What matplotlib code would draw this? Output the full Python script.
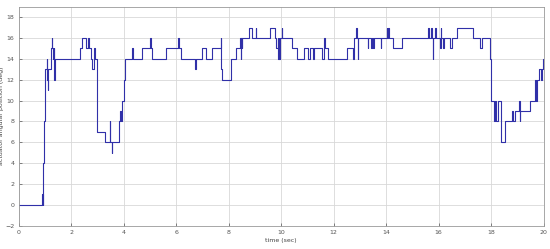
import numpy as np
import matplotlib.pyplot as plt

# step signal: time where each level starts, and the level (deg)
t_steps = [0.00, 0.87, 0.88, 0.89, 0.91, 0.92, 0.98, 1.00, 1.02, 1.06, 1.08, 1.10,
           1.12, 1.22, 1.26, 1.28, 1.32, 1.34, 1.36, 1.38, 2.33, 2.43, 2.55, 2.65,
           2.68, 2.75, 2.78, 2.85, 2.88, 2.92, 2.97, 3.30, 3.47, 3.49, 3.54, 3.56,
           3.82, 3.86, 3.88, 3.92, 3.95, 4.00, 4.05, 4.32, 4.34, 4.70, 5.02, 5.04,
           5.07, 5.63, 6.07, 6.09, 6.20, 6.72, 6.74, 6.97, 7.12, 7.38, 7.70, 7.72,
           7.76, 8.08, 8.27, 8.42, 8.45, 8.47, 8.50, 8.52, 8.78, 8.88, 9.03, 9.05,
           9.58, 9.78, 9.82, 9.86, 9.89, 9.91, 9.93, 9.95, 10.03, 10.05, 10.40, 10.59,
           10.88, 11.03, 11.10, 11.22, 11.26, 11.54, 11.65, 11.67, 11.79, 12.49, 12.75, 12.78,
           12.86, 12.88, 12.92, 12.94, 13.30, 13.32, 13.43, 13.45, 13.50, 13.52, 13.79, 13.81,
           14.02, 14.05, 14.07, 14.09, 14.27, 14.59, 15.60, 15.63, 15.70, 15.73, 15.78, 15.80,
           15.86, 15.90, 16.04, 16.08, 16.10, 16.18, 16.22, 16.45, 16.50, 16.68, 17.32, 17.57,
           17.64, 17.97, 17.99, 18.01, 18.10, 18.14, 18.20, 18.26, 18.37,
           18.53, 18.80, 18.82, 18.90, 19.06, 19.08, 19.10, 19.47, 19.66, 19.68, 19.72, 19.74,
           19.84, 19.90, 19.92, 19.96, 20.00]
levels = [0, 1, 0, 1, 0, 4, 8, 11, 13, 14, 12, 11,
          13, 15, 16, 15, 14, 15, 12, 14, 15, 16, 15, 16,
          15, 14, 13, 14, 15, 14, 7, 6, 8, 6, 5, 6,
          8, 9, 8, 9, 10, 12, 14, 15, 14, 15, 16, 15,
          14, 15, 16, 15, 14, 13, 14, 15, 14, 15, 16, 13,
          12, 14, 15, 16, 14, 16, 15, 16, 17, 16, 17, 16,
          17, 16, 15, 16, 14, 16, 14, 16, 17, 16, 15, 14,
          15, 14, 15, 14, 15, 14, 16, 15, 14, 15, 14, 16,
          17, 16, 14, 16, 15, 16, 15, 16, 15, 16, 15, 16,
          17, 16, 17, 16, 15, 16, 17, 16, 17, 16, 14, 16,
          17, 16, 15, 17, 16, 15, 16, 15, 16, 17, 16, 15,
          16, 14, 12, 10, 8, 10, 8, 10, 6,
          8, 9, 8, 9, 10, 8, 9, 10, 11, 12, 10, 12,
          13, 12, 13, 14, 14]

x_ticks = np.arange(0, 21, 2)
y_ticks = np.arange(-2, 19, 2)

fig = plt.figure(figsize=(5.5, 2.49), dpi=100)
ax = fig.add_axes([0.034, 0.094, 0.9545, 0.879])

ax.step(t_steps, levels, where='post', color='#3030a8', linewidth=0.8)

ax.set_xlim(0, 20)
ax.set_ylim(-2, 19)
ax.set_xticks(x_ticks)
ax.set_yticks(y_ticks)
ax.grid(True, color='#d8d8d8', linewidth=0.6)
ax.set_axisbelow(True)
ax.tick_params(direction='in', length=2, width=0.5, labelsize=4.5,
               colors='#555555', pad=3)
for s in ax.spines.values():
    s.set_color('#999999')
    s.set_linewidth(0.6)

ax.set_xlabel('time (sec)', fontsize=4.5, color='#444444', labelpad=2)
ax.set_ylabel('actuator angular position (deg)', fontsize=4.5, color='#444444', labelpad=1)

fig.savefig('out.png', dpi=100)
